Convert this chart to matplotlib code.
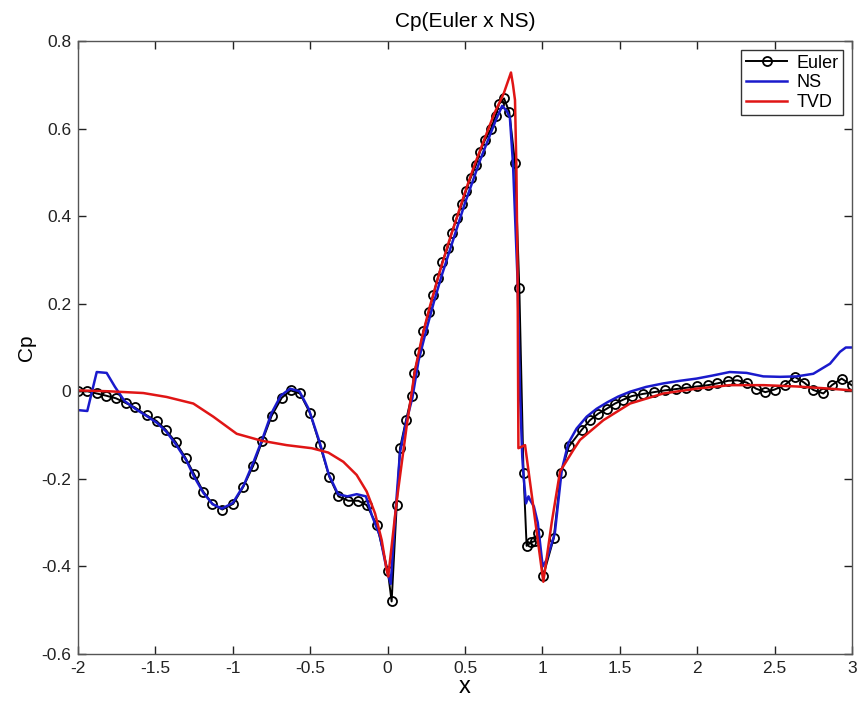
import matplotlib
matplotlib.use("Agg")
import matplotlib.pyplot as plt

plt.rcParams['axes.unicode_minus'] = False
plt.rcParams['font.family'] = ['Liberation Sans', 'DejaVu Sans']

title = "Cp(Euler x NS)"
xlabel = "x"
ylabel = "Cp"
xticks = [-2, -1.5, -1, -0.5, 0, 0.5, 1, 1.5, 2, 2.5, 3]
xticklabels = ["-2", "-1.5", "-1", "-0.5", "0", "0.5", "1", "1.5", "2", "2.5", "3"]
yticks = [-0.6, -0.4, -0.2, 0, 0.2, 0.4, 0.6, 0.8]
yticklabels = ["-0.6", "-0.4", "-0.2", "0", "0.2", "0.4", "0.6", "0.8"]

euler_x = [-2.000, -1.940, -1.879, -1.819, -1.755, -1.690, -1.632, -1.556, -1.492, -1.433,
           -1.369, -1.304, -1.249, -1.191, -1.132, -1.068, -0.997, -0.932, -0.868, -0.809,
           -0.749, -0.684, -0.626, -0.566, -0.501, -0.437, -0.377, -0.318, -0.254, -0.189,
           -0.135, -0.070, 0.001, 0.026, 0.059, 0.080, 0.119, 0.156, 0.172, 0.205,
           0.231, 0.267, 0.295, 0.324, 0.353, 0.388, 0.414, 0.446, 0.479, 0.506,
           0.537, 0.571, 0.597, 0.629, 0.666, 0.698, 0.720, 0.752, 0.786, 0.823,
           0.851, 0.878, 0.898, 0.926, 0.952, 0.970, 1.004, 1.073, 1.120, 1.171,
           1.254, 1.307, 1.361, 1.415, 1.469, 1.523, 1.577, 1.650, 1.720, 1.790,
           1.860, 1.930, 2.000, 2.070, 2.130, 2.200, 2.260, 2.320, 2.380, 2.440,
           2.500, 2.565, 2.630, 2.690, 2.750, 2.815, 2.870, 2.933, 2.998]
euler_y = [0.000, 0.000, -0.005, -0.010, -0.016, -0.027, -0.037, -0.055, -0.068, -0.088,
           -0.116, -0.153, -0.190, -0.229, -0.257, -0.270, -0.257, -0.218, -0.170, -0.113,
           -0.056, -0.015, 0.002, -0.005, -0.050, -0.123, -0.195, -0.240, -0.250, -0.250,
           -0.260, -0.305, -0.410, -0.480, -0.260, -0.130, -0.066, -0.010, 0.042, 0.090,
           0.138, 0.180, 0.220, 0.258, 0.295, 0.328, 0.362, 0.395, 0.427, 0.457,
           0.488, 0.517, 0.547, 0.574, 0.598, 0.629, 0.656, 0.669, 0.638, 0.522,
           0.235, -0.187, -0.353, -0.345, -0.342, -0.324, -0.423, -0.336, -0.187, -0.126,
           -0.088, -0.066, -0.051, -0.040, -0.028, -0.019, -0.011, -0.006, -0.002, 0.002,
           0.005, 0.008, 0.011, 0.014, 0.018, 0.024, 0.025, 0.020, 0.006, -0.002,
           0.004, 0.014, 0.033, 0.020, 0.003, -0.005, 0.014, 0.029, 0.014]

ns_x = [-2.0, -1.94, -1.879, -1.815, -1.761, -1.70, -1.63, -1.55, -1.49, -1.43,
        -1.37, -1.30, -1.25, -1.19, -1.13, -1.07, -1.00, -0.93, -0.87, -0.81,
        -0.75, -0.69, -0.63, -0.57, -0.51, -0.44, -0.38, -0.32, -0.26, -0.20,
        -0.14, -0.10, -0.05, -0.01, 0.02, 0.05, 0.08, 0.12, 0.16, 0.20,
        0.25, 0.30, 0.35, 0.40, 0.45, 0.50, 0.55, 0.60, 0.65, 0.70,
        0.74, 0.77, 0.79, 0.81, 0.84, 0.855, 0.87, 0.877, 0.894, 0.91,
        0.92, 0.945, 0.97, 1.002, 1.027, 1.08, 1.125, 1.167, 1.221, 1.286,
        1.35, 1.42, 1.49, 1.566, 1.67, 1.781, 1.89, 1.996, 2.10, 2.21,
        2.319, 2.427, 2.535, 2.643, 2.75, 2.858, 2.922, 2.96, 3.0]
ns_y = [-0.043, -0.045, 0.044, 0.042, 0.010, -0.022, -0.040, -0.058, -0.072, -0.092,
        -0.120, -0.158, -0.195, -0.232, -0.258, -0.268, -0.255, -0.215, -0.165, -0.110,
        -0.050, -0.010, 0.006, 0.000, -0.040, -0.115, -0.190, -0.235, -0.240, -0.235,
        -0.240, -0.285, -0.330, -0.400, -0.440, -0.280, -0.140, -0.070, -0.015, 0.070,
        0.140, 0.205, 0.265, 0.320, 0.375, 0.430, 0.480, 0.530, 0.575, 0.620,
        0.652, 0.640, 0.625, 0.520, 0.250, 0.000, -0.150, -0.187, -0.256, -0.240,
        -0.248, -0.263, -0.300, -0.400, -0.385, -0.325, -0.180, -0.119, -0.085, -0.058,
        -0.040, -0.025, -0.012, -0.001, 0.010, 0.018, 0.024, 0.029, 0.036, 0.044,
        0.042, 0.034, 0.033, 0.034, 0.040, 0.063, 0.090, 0.100, 0.100]

tvd_x = [-2.0, -1.8, -1.578, -1.427, -1.255, -1.126, -0.975, -0.813, -0.652, -0.49,
         -0.383, -0.286, -0.2, -0.135, -0.081, -0.038, -0.006, 0.004, 0.059, 0.123,
         0.177, 0.22, 0.27, 0.33, 0.39, 0.45, 0.51, 0.57, 0.63, 0.69,
         0.75, 0.797, 0.81, 0.823, 0.832, 0.84, 0.845, 0.888, 0.94, 1.006,
         1.06, 1.114, 1.2, 1.243, 1.394, 1.566, 1.781, 1.996, 2.21, 2.43,
         2.643, 2.858, 3.0]
tvd_y = [0.002, 0.000, -0.004, -0.013, -0.028, -0.058, -0.097, -0.113, -0.123, -0.130,
         -0.140, -0.161, -0.191, -0.229, -0.279, -0.340, -0.408, -0.423, -0.250, -0.080,
         0.048, 0.120, 0.190, 0.265, 0.335, 0.400, 0.465, 0.525, 0.580, 0.635,
         0.680, 0.728, 0.700, 0.665, 0.510, 0.250, -0.130, -0.123, -0.260, -0.435,
         -0.300, -0.183, -0.134, -0.111, -0.066, -0.028, -0.005, 0.006, 0.014, 0.014,
         0.011, 0.006, 0.002]

fig = plt.figure(figsize=(8.58, 7.06), dpi=100)
ax = fig.add_axes([78/858, 52/706, 774/858, 613/706])

ax.plot(euler_x, euler_y, color='black', lw=1.4, marker='o', markersize=6.5,
        markerfacecolor='none', markeredgecolor='black', markeredgewidth=1.3, label='Euler')
ax.plot(ns_x, ns_y, color='#1a1acc', lw=1.8, label='NS')
ax.plot(tvd_x, tvd_y, color='#e01515', lw=1.8, label='TVD')

ax.set_xlim(-2, 3)
ax.set_ylim(-0.6, 0.8)
ax.set_xticks(xticks)
ax.set_xticklabels(xticklabels)
ax.set_yticks(yticks)
ax.set_yticklabels(yticklabels)
ax.tick_params(direction='in', top=True, right=True, length=6, width=1,
               labelsize=12.5, colors='#222222', pad=5)
for s in ax.spines.values():
    s.set_color('#555555')
    s.set_linewidth(1.0)

ax.set_title(title, fontsize=15, pad=10)
ax.set_xlabel(xlabel, fontsize=17, labelpad=0)
ax.set_ylabel(ylabel, fontsize=15, labelpad=4)

leg = ax.legend(loc='upper right', fontsize=13, frameon=True, fancybox=False,
                edgecolor='#333333', framealpha=1, handlelength=2.3, handletextpad=0.5,
                borderpad=0.25, labelspacing=0.15, borderaxespad=0.5)
leg.get_frame().set_linewidth(1.0)

fig.savefig('out.png', dpi=100)
